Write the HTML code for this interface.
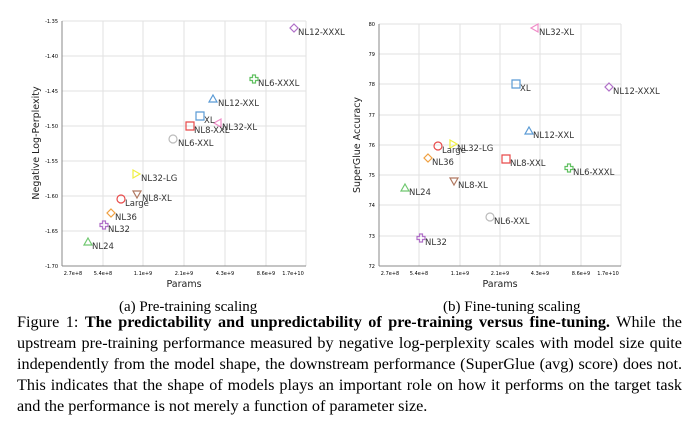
<!DOCTYPE html>
<html><head><meta charset="utf-8"><style>
body{margin:0;width:689px;height:429px;background:#fff;overflow:hidden;position:relative}
svg{position:absolute;left:0;top:0}
.t{font-family:"DejaVu Sans","Liberation Sans",sans-serif;font-size:8.5px;fill:#333}
.k{font-family:"DejaVu Sans","Liberation Sans",sans-serif;font-size:5px;fill:#000}
.a{font-family:"DejaVu Sans","Liberation Sans",sans-serif;font-size:9.5px;fill:#222}
.sub{position:absolute;top:299px;font-family:"Liberation Serif",serif;font-size:15px;color:#000}
.cap{position:absolute;left:17px;top:312px;width:665px;font-family:"Liberation Serif",serif;font-size:16.2px;line-height:21px;color:#000}
.cap div{text-align:justify;text-align-last:justify;white-space:nowrap}
.cap div.l{text-align-last:left}
</style></head><body>
<svg width="689" height="300" viewBox="0 0 689 300">
<g stroke="#e2e2e2" stroke-width="1">
<line x1="62" y1="56" x2="306" y2="56"/><line x1="62" y1="91" x2="306" y2="91"/><line x1="62" y1="126" x2="306" y2="126"/><line x1="62" y1="161" x2="306" y2="161"/><line x1="62" y1="196" x2="306" y2="196"/><line x1="62" y1="231" x2="306" y2="231"/><line x1="62" y1="21" x2="306" y2="21"/>
<line x1="103" y1="21" x2="103" y2="266"/><line x1="143" y1="21" x2="143" y2="266"/><line x1="184" y1="21" x2="184" y2="266"/><line x1="225" y1="21" x2="225" y2="266"/><line x1="266" y1="21" x2="266" y2="266"/><line x1="306" y1="21" x2="306" y2="266"/>
<line x1="379" y1="24" x2="621" y2="24"/><line x1="379" y1="54" x2="621" y2="54"/><line x1="379" y1="84" x2="621" y2="84"/><line x1="379" y1="115" x2="621" y2="115"/><line x1="379" y1="145" x2="621" y2="145"/><line x1="379" y1="175" x2="621" y2="175"/><line x1="379" y1="205" x2="621" y2="205"/><line x1="379" y1="236" x2="621" y2="236"/>
<line x1="419" y1="24" x2="419" y2="266"/><line x1="460" y1="24" x2="460" y2="266"/><line x1="500" y1="24" x2="500" y2="266"/><line x1="540" y1="24" x2="540" y2="266"/><line x1="581" y1="24" x2="581" y2="266"/><line x1="621" y1="24" x2="621" y2="266"/>
</g>
<g stroke="#888" stroke-width="1"><line x1="62" y1="21" x2="62" y2="266"/><line x1="62" y1="266" x2="306" y2="266"/>
<line x1="379" y1="24" x2="379" y2="266"/><line x1="379" y1="266" x2="621" y2="266"/></g>
<g class="k" text-anchor="end">
<text x="58" y="23">-1.35</text><text x="58" y="58">-1.40</text><text x="58" y="93">-1.45</text><text x="58" y="128">-1.50</text><text x="58" y="163">-1.55</text><text x="58" y="198">-1.60</text><text x="58" y="233">-1.65</text><text x="58" y="268">-1.70</text>
<text x="375" y="26">80</text><text x="375" y="56">79</text><text x="375" y="86">78</text><text x="375" y="117">77</text><text x="375" y="147">76</text><text x="375" y="177">75</text><text x="375" y="207">74</text><text x="375" y="238">73</text><text x="375" y="268">72</text>
</g>
<g class="k" text-anchor="middle">
<text x="73" y="275">2.7e+8</text><text x="103" y="275">5.4e+8</text><text x="143" y="275">1.1e+9</text><text x="184" y="275">2.1e+9</text><text x="225" y="275">4.3e+9</text><text x="266" y="275">8.6e+9</text><text x="293" y="275">1.7e+10</text>
<text x="390" y="275">2.7e+8</text><text x="419" y="275">5.4e+8</text><text x="460" y="275">1.1e+9</text><text x="500" y="275">2.1e+9</text><text x="540" y="275">4.3e+9</text><text x="581" y="275">8.6e+9</text><text x="608" y="275">1.7e+10</text>
</g>
<text class="a" x="184" y="287" text-anchor="middle">Params</text>
<text class="a" x="500" y="287" text-anchor="middle">Params</text>
<text class="a" transform="translate(39,143) rotate(-90)" text-anchor="middle">Negative Log-Perplexity</text>
<text class="a" transform="translate(360,145) rotate(-90)" text-anchor="middle">SuperGlue Accuracy</text>
<defs>
<path id="dia" d="M0,-4L4,0L0,4L-4,0Z"/>
<path id="plus" d="M-1.5,-4H1.5V-1.5H4V1.5H1.5V4H-1.5V1.5H-4V-1.5H-1.5Z"/>
<path id="tri" d="M0,-4L4,3H-4Z"/>
<path id="dtri" d="M0,4L4,-3H-4Z"/>
<path id="ltri" d="M-4,0L3,-4V4Z"/>
<path id="rtri" d="M4,0L-3,-4V4Z"/>
<path id="sq" d="M-4,-4H4V4H-4Z"/>
</defs>
<g fill="none" stroke-width="1.2">
<use href="#dia" x="294" y="28" stroke="#b070c8"/>
<use href="#plus" x="254" y="79" stroke="#60c060"/>
<use href="#tri" x="213" y="99" stroke="#5b9bd5"/>
<use href="#sq" x="200" y="116" stroke="#5b9bd5"/>
<use href="#ltri" x="218" y="123" stroke="#f08cc8"/>
<use href="#sq" x="190" y="126" stroke="#e84a4a"/>
<circle cx="173" cy="139" r="4" stroke="#bbb"/>
<use href="#rtri" x="136" y="174" stroke="#f0f040"/>
<use href="#dtri" x="137" y="194" stroke="#b07860"/>
<circle cx="121" cy="199" r="4" stroke="#e84a4a"/>
<use href="#dia" x="111" y="213" stroke="#f0a040"/>
<use href="#plus" x="104" y="225" stroke="#b070c8"/>
<use href="#tri" x="88" y="242" stroke="#70c870"/>

<use href="#ltri" x="535" y="28" stroke="#f08cc8"/>
<use href="#sq" x="516" y="84" stroke="#5b9bd5"/>
<use href="#dia" x="609" y="87" stroke="#b070c8"/>
<use href="#tri" x="529" y="131" stroke="#5b9bd5"/>
<circle cx="438" cy="146" r="4" stroke="#e84a4a"/>
<use href="#rtri" x="453" y="144" stroke="#f0f040"/>
<use href="#dia" x="428" y="158" stroke="#f0a040"/>
<use href="#sq" x="506" y="159" stroke="#e84a4a"/>
<use href="#plus" x="569" y="168" stroke="#60c060"/>
<use href="#dtri" x="454" y="181" stroke="#b07860"/>
<use href="#tri" x="405" y="188" stroke="#70c870"/>
<circle cx="490" cy="217" r="4" stroke="#bbb"/>
<use href="#plus" x="421" y="238" stroke="#b070c8"/>
</g>
<g class="t">
<text x="298" y="35">NL12-XXXL</text><text x="258" y="86">NL6-XXXL</text><text x="218" y="106">NL12-XXL</text>
<text x="204" y="123">XL</text><text x="222" y="130">NL32-XL</text><text x="194" y="133">NL8-XXL</text>
<text x="178" y="146">NL6-XXL</text><text x="141" y="181">NL32-LG</text><text x="142" y="201">NL8-XL</text>
<text x="125" y="206">Large</text><text x="115" y="220">NL36</text><text x="108" y="232">NL32</text><text x="92" y="249">NL24</text>

<text x="539" y="35">NL32-XL</text><text x="520" y="91">XL</text><text x="613" y="94">NL12-XXXL</text>
<text x="533" y="138">NL12-XXL</text><text x="442" y="153">Large</text><text x="457" y="151">NL32-LG</text>
<text x="432" y="165">NL36</text><text x="510" y="166">NL8-XXL</text><text x="573" y="175">NL6-XXXL</text>
<text x="458" y="188">NL8-XL</text><text x="409" y="195">NL24</text><text x="494" y="224">NL6-XXL</text><text x="425" y="245">NL32</text>
</g>
</svg>
<div class="sub" style="left:119px">(a) Pre-training scaling</div>
<div class="sub" style="left:443px">(b) Fine-tuning scaling</div>
<div class="cap">
<div>Figure 1: <b>The predictability and unpredictability of pre-training versus fine-tuning.</b> While the</div>
<div>upstream pre-training performance measured by negative log-perplexity scales with model size quite</div>
<div>independently from the model shape, the downstream performance (SuperGlue (avg) score) does not.</div>
<div>This indicates that the shape of models plays an important role on how it performs on the target task</div>
<div class="l">and the performance is not merely a function of parameter size.</div>
</div>
</body></html>
